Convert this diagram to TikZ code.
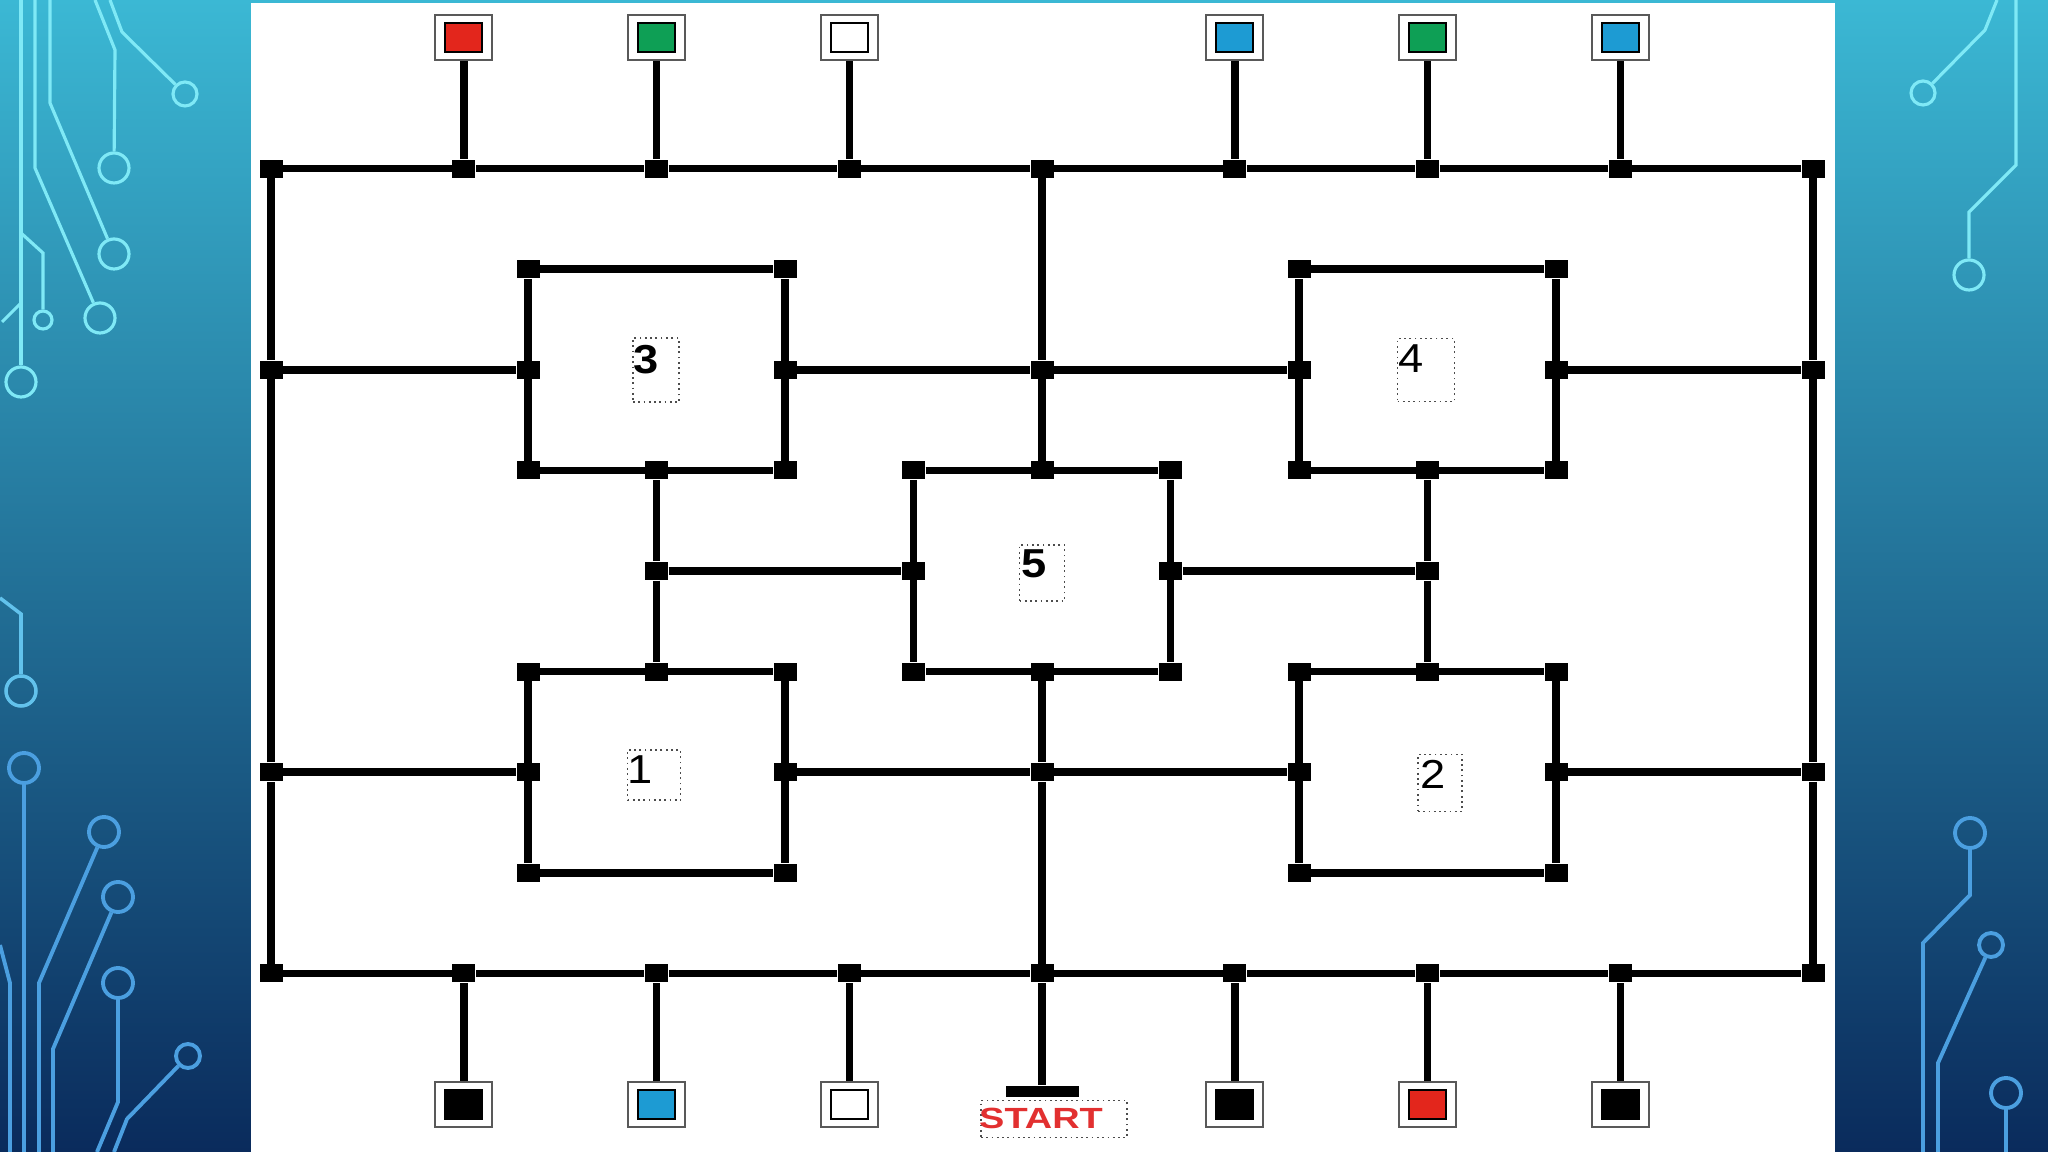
\documentclass[tikz,border=0pt]{standalone}
\usepackage{fontspec}
\setmainfont{Liberation Sans}
\usetikzlibrary{positioning}
\definecolor{BgTop}{HTML}{3BB8D4}
\definecolor{BgMid}{HTML}{2387B0}
\definecolor{BgLow}{HTML}{0A2B5C}
\definecolor{TraceHi}{HTML}{7FE9F6}
\definecolor{TraceMid}{HTML}{62C2EC}
\definecolor{TraceLo}{HTML}{4B9FE0}
\definecolor{SqRed}{HTML}{E3261C}
\definecolor{SqGreen}{HTML}{0E9F55}
\definecolor{SqBlue}{HTML}{1D9BD3}
\definecolor{StartRed}{HTML}{E23030}
\tikzset{wire/.style={line width=.75mm},
 junc/.style={rectangle,fill=black,minimum width=2.3mm,minimum height=1.8mm,inner sep=0pt},
 pinout/.style={rectangle,draw=black!65,line width=.5pt,fill=white,minimum width=5.7mm,
 minimum height=4.5mm,inner sep=0pt},
 pinin/.style={rectangle,draw=black,line width=.5pt,minimum width=3.7mm,minimum height=2.9mm,inner sep=0pt},
 barnode/.style={rectangle,fill=black,minimum width=7.3mm,minimum height=1.1mm,inner sep=0pt},
 tagbox/.style={rectangle,draw=black!70,densely dotted,line width=.5pt,inner sep=0pt},
 digit/.style={inner sep=0pt,xscale=1.12,font=\fontsize{11.5}{11.5}\selectfont},
 pad/.style={circle,draw,inner sep=0pt}}

\begin{document}
\begin{tikzpicture}[x=.1mm,y=-.1mm]
\useasboundingbox (0,0) rectangle (2048,1152);
\shade[top color=BgTop,middle color=BgMid,bottom color=BgLow] (0,0) rectangle (2048,1152);
% circuit traces left and right
\begin{scope}[TraceHi,line width=.9pt]
\node[pad,minimum size=3mm] (pa) at (21,382) {};
\node[pad,minimum size=1.8mm] (pb) at (43,320) {};
\node[pad,minimum size=3mm] (pc) at (100,318) {};
\node[pad,minimum size=3mm] (pd) at (114,254) {};
\node[pad,minimum size=3mm] (pe) at (114,168) {};
\node[pad,minimum size=2.4mm] (pf) at (185,94) {};
\draw (21,0)--(pa); \draw (21,233)--(43,253)--(pb); \draw (21,303)--(2,322);
\draw (35,0)--(35,168)--(pc);
\draw (50,0)--(50,103)--(pd);
\draw (95,0)--(115,50)--(pe);
\draw (110,0)--(122,32)--(pf);
\node[pad,minimum size=2.4mm] (pm) at (1923,93) {};
\node[pad,minimum size=3mm] (pn) at (1969,275) {};
\draw (1997,0)--(1985,30)--(pm);
\draw (2016,0)--(2016,165)--(1969,212)--(pn);
\end{scope}
\begin{scope}[TraceMid,line width=1pt]
\node[pad,minimum size=3mm] (pg) at (21,691) {};
\draw (0,598)--(21,614)--(pg);
\end{scope}
\begin{scope}[TraceLo,line width=1.1pt]
\node[pad,minimum size=3mm] (ph) at (24,768) {};
\node[pad,minimum size=3mm] (pi) at (104,832) {};
\node[pad,minimum size=3mm] (pj) at (118,897) {};
\node[pad,minimum size=3mm] (pk) at (118,983) {};
\node[pad,minimum size=2.4mm] (pl) at (188,1056) {};
\draw (ph)--(24,1152);
\draw (pi)--(39,983)--(39,1152);
\draw (pj)--(53,1049)--(53,1152);
\draw (pk)--(118,1102)--(97,1152);
\draw (pl)--(127,1119)--(114,1152);
\draw (0,945)--(10,983)--(10,1152);
\node[pad,minimum size=3mm] (po) at (1970,833) {};
\node[pad,minimum size=2.4mm] (pp) at (1991,945) {};
\node[pad,minimum size=3mm] (pq) at (2006,1093) {};
\draw (po)--(1970,895)--(1923,943)--(1923,1152);
\draw (pp)--(1938,1063)--(1938,1152);
\draw (pq)--(2006,1152);
\end{scope}
\fill[white] (251,3) rectangle (1835,1152);
% the track
\begin{scope}[shift={(1042,571)},x=12.85mm,y=10.06mm]
\foreach \x [count=\i] in {-4.5,-3,-1.5,0,1.5,3,4.5}{
 \node[junc] (t\i) at (\x,4) {};
 \node[junc] (b\i) at (\x,-4) {};
}
\foreach \nm/\x/\y in {otl/-6/4,otr/6/4,obl/-6/-4,obr/6/-4,ol2/-6/2,ol1/-6/-2,or2/6/2,or1/6/-2,
 q3-s/-3/1,q4-s/3/1,q1-n/-3/-1,q2-n/3/-1,q5-n/0/1,q5-s/0/-1,cu/0/2,cd/0/-2,ml/-3/0,mr/3/0}
 \node[junc] (\nm) at (\x,\y) {};
\foreach \n/\x/\y in {3/-3/2,4/3/2,1/-3/-2,2/3/-2,5/0/0}{
 \node[junc] (q\n-nw) at (\x-1,\y+1) {};
 \node[junc] (q\n-ne) at (\x+1,\y+1) {};
 \node[junc] (q\n-se) at (\x+1,\y-1) {};
 \node[junc] (q\n-sw) at (\x-1,\y-1) {};
 \node[junc] (q\n-w) at (\x-1,\y) {};
 \node[junc] (q\n-e) at (\x+1,\y) {};
 \draw[wire] (q\n-nw)--(q\n-ne)--(q\n-se)--(q\n-sw)--(q\n-nw);
}
\draw[wire] (otl)--(t1)--(t2)--(t3)--(t4)--(t5)--(t6)--(t7)--(otr)--(or2)--(or1)--(obr)
 --(b7)--(b6)--(b5)--(b4)--(b3)--(b2)--(b1)--(obl)--(ol1)--(ol2)--(otl);
\draw[wire] (ol2)--(q3-w) (q3-e)--(cu)--(q4-w) (q4-e)--(or2);
\draw[wire] (ol1)--(q1-w) (q1-e)--(cd)--(q2-w) (q2-e)--(or1);
\draw[wire] (q3-s)--(ml)--(q1-n) (ml)--(q5-w);
\draw[wire] (q4-s)--(mr)--(q2-n) (mr)--(q5-e);
\node[barnode] (bar) at (0,-5.174) {};
\draw[wire] (t4)--(cu)--(q5-n);
\draw[wire] (q5-s)--(cd)--(b4)--(bar);
% colour pins
\foreach \x/\i/\c in {-4.5/1/SqRed,-3/2/SqGreen,-1.5/3/white,1.5/5/SqBlue,3/6/SqGreen,4.5/7/SqBlue}{
 \node[pinout] (ts\i) at (\x,5.3) {};
 \node[pinin,fill=\c] (ts\i-in) at (ts\i) {};
 \draw[wire] (ts\i)--(t\i);
}
\foreach \x/\i/\c in {-4.5/1/black,-3/2/SqBlue,-1.5/3/white,1.5/5/black,3/6/SqRed,4.5/7/black}{
 \node[pinout] (bs\i) at (\x,-5.3) {};
 \node[pinin,fill=\c] (bs\i-in) at (bs\i) {};
 \draw[wire] (b\i)--(bs\i);
}
\end{scope}
% labels
\node[tagbox,minimum width=4.6mm,minimum height=6.4mm] (tag3) at (656,370) {};
\node[digit,font=\bfseries\fontsize{11.5}{11.5}\selectfont,below right=.7mm and .1mm of tag3.north west] (d3) {3};
\node[tagbox,minimum width=5.7mm,minimum height=6.3mm] (tag4) at (1426,370) {};
\node[digit,below right=.6mm and .1mm of tag4.north west] (d4) {4};
\node[tagbox,minimum width=5.3mm,minimum height=5mm] (tag1) at (654,775) {};
\node[digit,below right=.6mm and 0mm of tag1.north west] (d1) {1};
\node[tagbox,minimum width=4.4mm,minimum height=5.7mm] (tag2) at (1440,783) {};
\node[digit,below right=.6mm and .3mm of tag2.north west] (d2) {2};
\node[tagbox,minimum width=4.5mm,minimum height=5.6mm] (tag5) at (1042,573) {};
\node[digit,font=\bfseries\fontsize{11.5}{11.5}\selectfont,below right=.5mm and .2mm of tag5.north west] (d5) {5};
\node[tagbox,minimum width=14.6mm,minimum height=3.7mm] (gobox) at (1054,1119) {};
\node[inner sep=0pt,xscale=1.3,text=StartRed,font=\bfseries\fontsize{8.3}{8.3}\selectfont] (go) at (1041,1118) {START};
\end{tikzpicture}
\end{document}
